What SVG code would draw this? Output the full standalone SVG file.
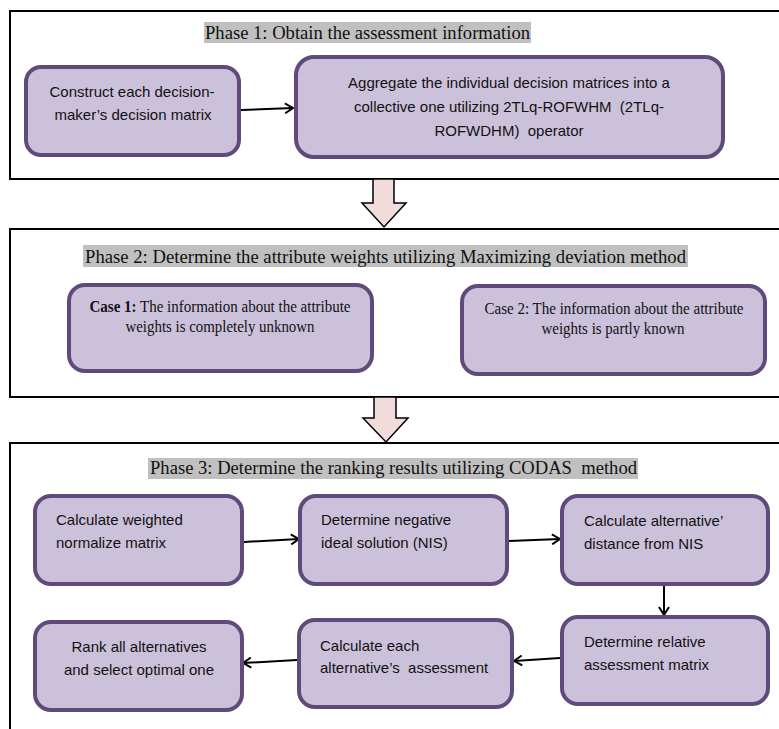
<svg xmlns="http://www.w3.org/2000/svg" width="779" height="729" viewBox="0 0 779 729">
<style>
.frame{fill:none;stroke:#000;stroke-width:2}
.tbg{fill:#c0c0c0}
.title{font-family:"Liberation Serif","Times New Roman",serif;font-size:19px;fill:#111}
.box{fill:#ccc1da;stroke:#604a7b;stroke-width:4}
.st{font-family:"Liberation Sans",Arial,sans-serif;font-size:15px;fill:#111}
.serif{font-family:"Liberation Serif","Times New Roman",serif;font-size:16px;fill:#111}
.mid{text-anchor:middle}
.conn{fill:none;stroke:#000;stroke-width:2;marker-end:url(#ah)}
.block{fill:#f2dcdb;stroke:#000;stroke-width:1.5;stroke-linejoin:miter}
</style>
<defs>
<marker id="ah" viewBox="0 0 10 12" refX="9" refY="6" markerWidth="10" markerHeight="12" markerUnits="userSpaceOnUse" orient="auto">
<path d="M1,1 L9,6 L1,11" fill="none" stroke="#000" stroke-width="2"/>
</marker>
</defs>

<g id="phase1">
<rect class="frame" x="10" y="11" width="800" height="168"/>
<rect class="tbg" x="204" y="22" width="327" height="21"/>
<text class="title" x="205" y="39" textLength="325" lengthAdjust="spacingAndGlyphs">Phase 1: Obtain the assessment information</text>
</g>
<g id="phase2">
<rect class="frame" x="10" y="229" width="800" height="168"/>
<rect class="tbg" x="83" y="245" width="605" height="22"/>
<text class="title" x="85" y="263" textLength="601" lengthAdjust="spacingAndGlyphs">Phase 2: Determine the attribute weights utilizing Maximizing deviation method</text>
</g>
<g id="phase3">
<rect class="frame" x="10" y="443" width="800" height="320"/>
<rect class="tbg" x="148" y="458" width="490" height="21"/>
<text class="title" x="150" y="474" textLength="487" lengthAdjust="spacingAndGlyphs" xml:space="preserve">Phase 3: Determine the ranking results utilizing CODAS  method</text>
</g>

<g id="connectors">
<polygon class="block" points="373,179 394,179 394,203 406,203 384,227 362,203 373,203"/>
<polygon class="block" points="374,397 396,397 396,418 408,418 386,442 363,418 374,418"/>
<path class="conn" d="M241,110 L293,108"/>
<path class="conn" d="M244,542 L299,539"/>
<path class="conn" d="M509,541 L560,539"/>
<path class="conn" d="M664,586 L664,615"/>
<path class="conn" d="M560,658 L514,661"/>
<path class="conn" d="M297,660 L243,663"/>
</g>

<g id="nodeA">
<rect class="box" x="26" y="67" width="213" height="88" rx="15"/>
<text class="st mid" x="132" y="97">Construct each decision-</text>
<text class="st mid" x="133" y="120">maker’s decision matrix</text>
</g>
<g id="nodeB">
<rect class="box" x="296" y="57" width="427" height="100" rx="18"/>
<text class="st mid" x="509" y="88">Aggregate the individual decision matrices into a</text>
<text class="st mid" x="509" y="112" xml:space="preserve">collective one utilizing 2TLq-ROFWHM  (2TLq-</text>
<text class="st mid" x="509" y="136" xml:space="preserve">ROFWDHM)  operator</text>
</g>
<g id="case1">
<rect class="box" x="69" y="285" width="303" height="86" rx="16"/>
<text class="serif mid" x="220" y="312" textLength="261" lengthAdjust="spacingAndGlyphs"><tspan font-weight="bold">Case 1:</tspan> The information about the attribute</text>
<text class="serif mid" x="220" y="332" textLength="189" lengthAdjust="spacingAndGlyphs">weights is completely unknown</text>
</g>
<g id="case2">
<rect class="box" x="462" y="286" width="303" height="88" rx="16"/>
<text class="serif mid" x="614" y="314" textLength="259" lengthAdjust="spacingAndGlyphs">Case 2: The information about the attribute</text>
<text class="serif mid" x="613" y="334" textLength="143" lengthAdjust="spacingAndGlyphs">weights is partly known</text>
</g>
<g id="c1">
<rect class="box" x="35" y="496" width="207" height="88" rx="16"/>
<text class="st" x="56" y="525">Calculate weighted</text>
<text class="st" x="56" y="548">normalize matrix</text>
</g>
<g id="c2">
<rect class="box" x="300" y="496" width="207" height="88" rx="16"/>
<text class="st" x="321" y="525">Determine negative</text>
<text class="st" x="321" y="548">ideal solution (NIS)</text>
</g>
<g id="c3">
<rect class="box" x="562" y="496" width="206" height="88" rx="16"/>
<text class="st" x="584" y="526">Calculate alternative’</text>
<text class="st" x="584" y="549">distance from NIS</text>
</g>
<g id="r3">
<rect class="box" x="562" y="617" width="206" height="87" rx="16"/>
<text class="st" x="584" y="647">Determine relative</text>
<text class="st" x="584" y="670">assessment matrix</text>
</g>
<g id="r2">
<rect class="box" x="299" y="620" width="213" height="87" rx="16"/>
<text class="st" x="320" y="651">Calculate each</text>
<text class="st" x="320" y="673" xml:space="preserve">alternative’s  assessment</text>
</g>
<g id="r1">
<rect class="box" x="35" y="622" width="207" height="88" rx="16"/>
<text class="st mid" x="139" y="652">Rank all alternatives</text>
<text class="st mid" x="139" y="675">and select optimal one</text>
</g>
</svg>
